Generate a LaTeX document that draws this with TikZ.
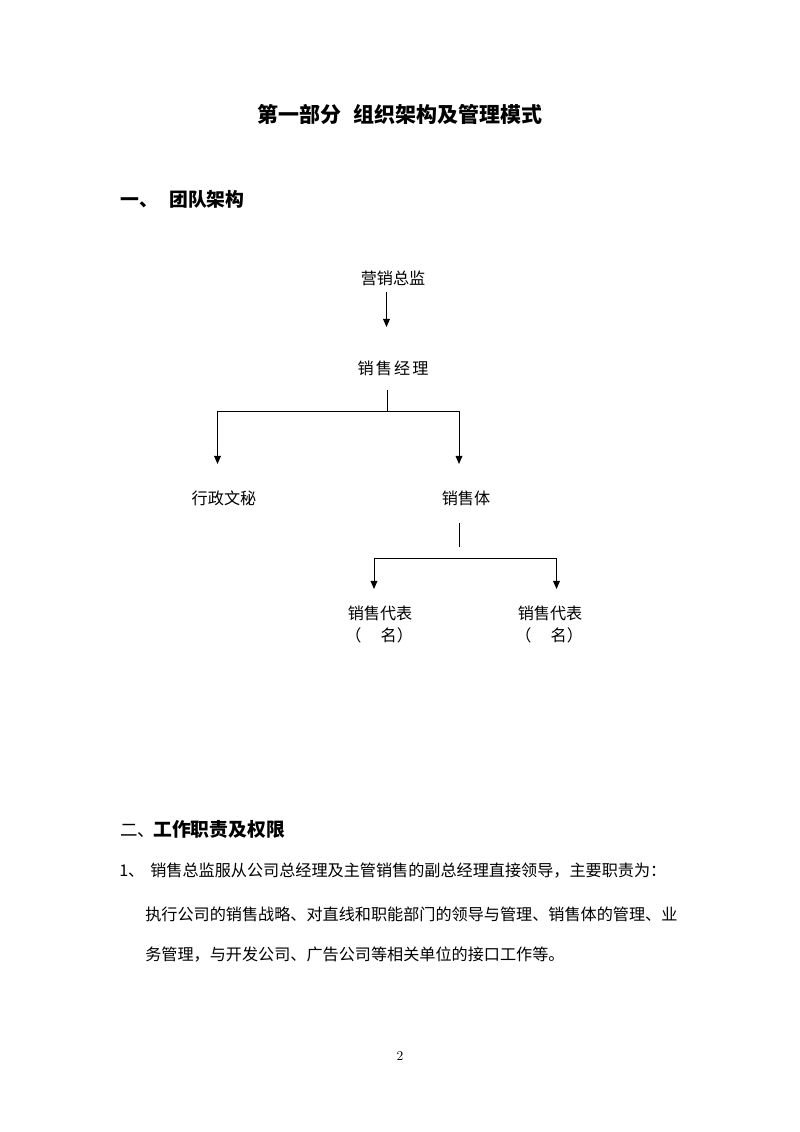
\documentclass[tikz,border=0pt]{standalone}
\usepackage{fontspec}
\newfontfamily\cjk{Noto Sans CJK SC}
\usetikzlibrary{arrows.meta}
\tikzset{
  txt/.style={inner sep=0pt, text height=0.86em, text depth=0.12em, font=\cjk\fontsize{12pt}{14pt}\selectfont},
  chart/.style={txt},
  body/.style={txt, anchor=west},
  head/.style={inner sep=0pt, text height=0.86em, text depth=0.12em, anchor=west, font=\cjk\bfseries\fontsize{14pt}{16pt}\selectfont},
  headnum/.style={inner sep=0pt, text height=0.86em, text depth=0.12em, anchor=west, font=\cjk\fontsize{13pt}{15pt}\selectfont},
  ttl/.style={inner sep=0pt, text height=0.86em, text depth=0.12em, font=\cjk\bfseries\fontsize{15.6pt}{18pt}\selectfont},
  ln/.style={line width=0.75pt, black},
  arr/.style={ln, -{Triangle[length=6pt,width=5pt]}}
}
\begin{document}
\begin{tikzpicture}[x=0.7441pt,y=-0.7441pt]
\useasboundingbox[fill=white] (0,0) rectangle (800,1132);
% title
\node[ttl] (title) at (400,118) {第一部分\hspace{0.6em}组织架构及管理模式};
\node[head] (h1a) at (120,202) {一、};
\node[head] (h1b) at (169,202) {团队架构};
% chart nodes
\node[chart] (zj) at (393,280) {营销总监};
\node[chart] (xj) at (393,370) {销\hspace{1.6pt}售\hspace{1.6pt}经\hspace{1.6pt}理};
\node[chart] (xz) at (224,500) {行政文秘};
\node[chart] (xst) at (466,500) {销售体};
\node[chart] (d1) at (380,615) {销售代表};
\node[chart] (d2) at (550,615) {销售代表};
\node[chart, anchor=west] (n1) at (345,637) {（\hspace{1.2em}名）};
\node[chart, anchor=west] (n2) at (515,637) {（\hspace{1.2em}名）};
% connectors
\coordinate (a0) at (386.5,292);
\coordinate (a1) at (386.5,327);
\draw[arr] (a0) -- (a1);
\coordinate (b0) at (387,390);
\coordinate (b1) at (387,411);
\coordinate (bl) at (217.5,411);
\coordinate (br) at (459,411);
\coordinate (blt) at (217.5,464);
\coordinate (brt) at (459,464);
\draw[ln] (b0) -- (b1);
\draw[arr] (b1) -- (bl) -- (blt);
\draw[arr] (b1) -- (br) -- (brt);
\coordinate (c0) at (459,523);
\coordinate (c1) at (459,547);
\draw[ln] (c0) -- (c1);
\coordinate (cl) at (374,558);
\coordinate (cr) at (556.5,558);
\coordinate (clt) at (374,589);
\coordinate (crt) at (556.5,589);
\draw[ln] (cl) -- (cr);
\draw[arr] (cl) -- (clt);
\draw[arr] (cr) -- (crt);
% section 2
\node[headnum] (h2a) at (120,832) {二、};
\node[head] (h2b) at (153,832) {工作职责及权限};
\node[body] (p1a) at (119,872) {1、};
\node[body] (p1b) at (150,872) {销售总监服从公司总经理及主管销售的副总经理直接领导，主要职责为：};
\node[body] (p2) at (145,916) {执行公司的销售战略、对直线和职能部门的领导与管理、销售体的管理、业};
\node[body] (p3) at (145,956) {务管理，与开发公司、广告公司等相关单位的接口工作等。};
\node[inner sep=0pt, font=\fontsize{10pt}{12pt}\selectfont] (pg) at (400,1056) {2};
\end{tikzpicture}
\end{document}
